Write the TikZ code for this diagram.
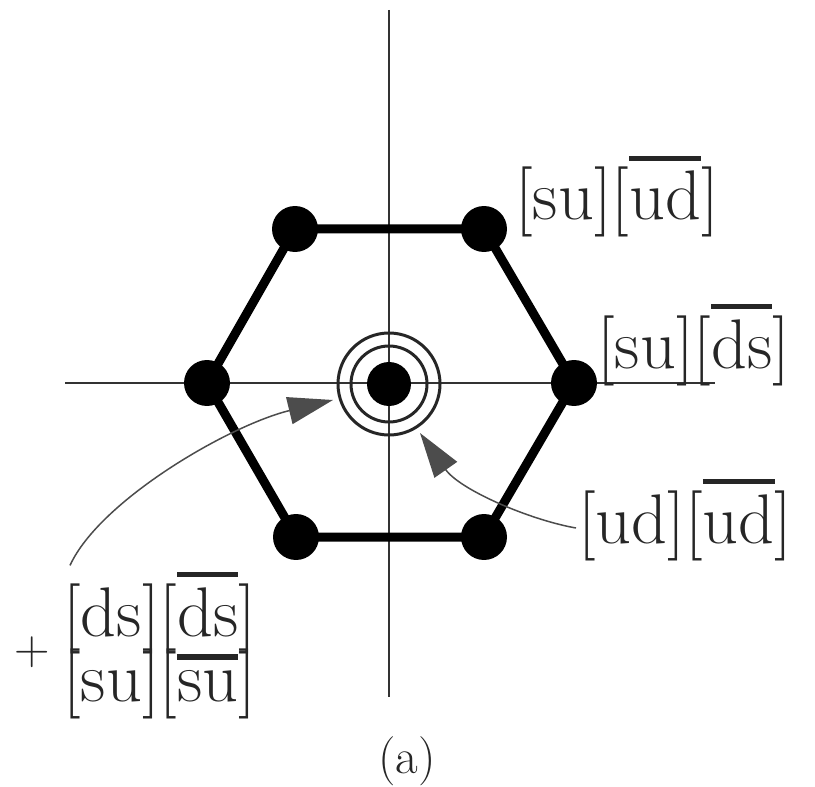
\documentclass[tikz,border=0pt]{standalone}
\usepackage{tikz}
\usetikzlibrary{arrows.meta, positioning}

\newcommand{\antiq}[1]{\leavevmode\vbox{\hrule height 0.08em\kern 0.14em\hbox{#1}}}

\begin{document}
\begin{tikzpicture}[x=0.02cm, y=-0.02cm,
    axis/.style={line width=0.05cm, black!80},
    edge/.style={line width=0.18cm, black, line join=round},
    vertex/.style={circle, fill=black, inner sep=0pt, minimum size=0.92cm},
    ring/.style={line width=0.06cm, black!85},
    pointer/.style={line width=0.03cm, black!70, -{Triangle[length=0.9cm, width=0.55cm]}},
    state/.style={anchor=base west, inner sep=0pt, font=\fontsize{40}{44}\selectfont, text=black!85},
    ]
\useasboundingbox (0,0) rectangle (815,787);

% axes
\coordinate (ytop) at (389,10);
\coordinate (ybot) at (389,697);
\coordinate (xleft) at (65,383);
\coordinate (xright) at (715,383);
\draw[axis] (ytop) -- (ybot);
\draw[axis] (xleft) -- (xright);

% hexagon of states
\coordinate (tl) at (295,229);
\coordinate (tr) at (484,229);
\coordinate (r) at (574,383);
\coordinate (br) at (484,537);
\coordinate (bl) at (296,537);
\coordinate (l) at (207,383);
\draw[edge] (tl) -- (tr) -- (r) -- (br) -- (bl) -- (l) -- cycle;
\foreach \v in {tl,tr,r,br,bl,l}
    \node[vertex] (\v-dot) at (\v) {};

% centre with its rings
\node[vertex, minimum size=0.88cm] (c) at (389,384) {};
\draw[ring] (c) circle[radius=38];
\draw[ring] (c) circle[radius=51];

% state labels
\node[state] (sudu) at (515,220) {[su][\antiq{ud}]};
\node[state] (sudd) at (597,368) {[su][\antiq{ds}]};
\node[state] (udud) at (578,543) {[ud][\antiq{ud}]};
\node[state] (dsds) at (63,636) {[ds][\antiq{ds}]};
\node[state] (susu) at (63,701) {[su][\antiq{su}]};
\node[inner sep=0pt, font=\fontsize{28}{30}\selectfont, text=black!85] (plus) at (32,652) {+};
\node[inner sep=0pt, font=\fontsize{28}{30}\selectfont, text=black!85] (cap) at (407,761) {(a)};

% pointers to the centre
\draw[pointer] ([shift={(7,-6)}]dsds.north west) .. controls (100,500) and (230,425) .. ([shift={(-56,16)}]c.center);
\draw[pointer] ([shift={(-2,-15)}]udud.base west) .. controls (530,520) and (460,490) .. ([shift={(31,49)}]c.center);

\end{tikzpicture}
\end{document}
